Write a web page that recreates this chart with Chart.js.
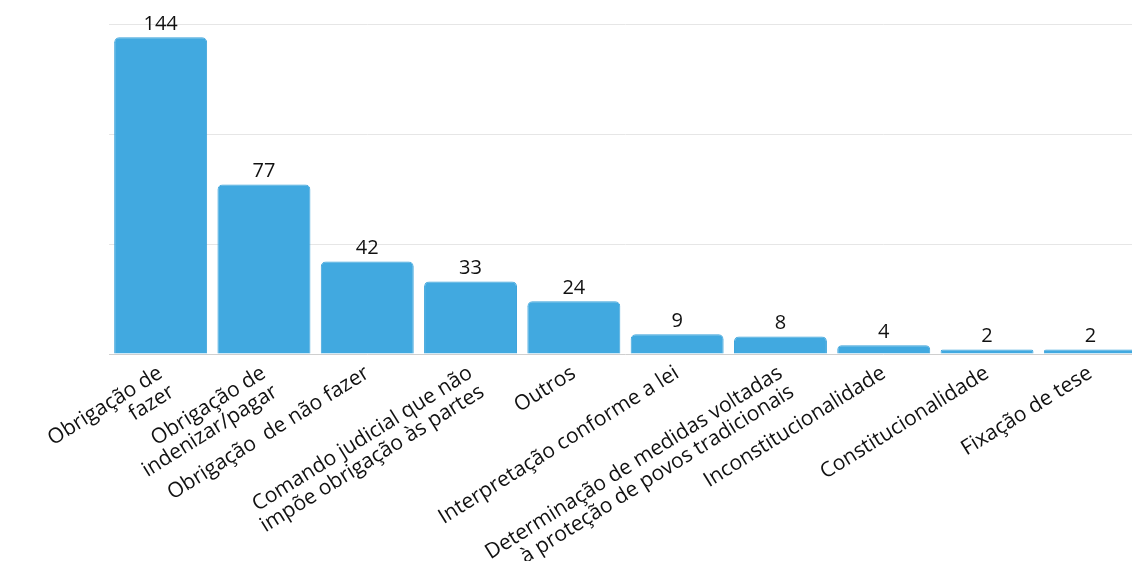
<!DOCTYPE html>
<html>
<head>
<meta charset="utf-8">
<script src="https://cdn.jsdelivr.net/npm/chart.js@4/dist/chart.umd.min.js"></script>
<style>
  html, body { margin: 0; padding: 0; background: #fff; overflow: hidden; }
  #wrap { width: 1142px; height: 561px; }
</style>
</head>
<body>
<div id="wrap"><canvas id="decisoesChart"></canvas></div>
<script>
// categorias (eixo x)
const categorias = [
  ["Obrigação de", "fazer"],
  ["Obrigação de", "indenizar/pagar"],
  "Obrigação  de não fazer",
  ["Comando judicial que não", "impõe obrigação às partes"],
  "Outros",
  "Interpretação conforme a lei",
  ["Determinação de medidas voltadas", "à proteção de povos tradicionais"],
  "Inconstitucionalidade",
  "Constitucionalidade",
  "Fixação de tese",
];

// quantidade por categoria
const quantidades = [144, 77, 42, 33, 24, 9, 8, 4, 2, 2];

// linhas de grade do eixo y
const yTicks = [0, 50, 100, 150];

/**
 * escreve o valor em cima de cada barra
 */
const valorNaBarra = {
  id: "valorNaBarra",
  afterDatasetsDraw(chart) {
    const ctx = chart.ctx;
    const meta = chart.getDatasetMeta(0);
    ctx.save();
    ctx.font = "20px 'Open Sans', sans-serif";
    ctx.fillStyle = "#111";
    ctx.textAlign = "center";
    ctx.textBaseline = "bottom";
    meta.data.forEach((bar, i) => {
      ctx.fillText(String(quantidades[i]), bar.x, bar.y - 3);
    });
    ctx.restore();
  },
};

const ctx = document.getElementById("decisoesChart").getContext("2d");

new Chart(ctx, {
  type: "bar",
  data: {
    labels: categorias,
    datasets: [
      {
        data: quantidades,
        backgroundColor: "#41a9e0",
        borderColor: "#3aa2da",
        borderWidth: 1,
        borderRadius: { topLeft: 5, topRight: 5 },
        borderSkipped: "bottom",
        barPercentage: 0.9,
        categoryPercentage: 1,
      },
    ],
  },
  options: {
    responsive: true,
    maintainAspectRatio: false,
    animation: false,
    layout: { padding: { left: 109, top: 24, right: 0, bottom: 0 } },
    plugins: {
      legend: { display: false },
      tooltip: { enabled: false },
    },
    scales: {
      x: {
        grid: { display: false },
        border: { display: false },
        ticks: {
          autoSkip: false,
          minRotation: 32,
          maxRotation: 32,
          padding: 0,
          color: "#111",
          font: { size: 21, family: "'Open Sans', sans-serif", lineHeight: 1.05 },
        },
        afterFit: (scale) => {
          scale.height = 207;
        },
      },
      y: {
        min: 0,
        max: 150,
        afterBuildTicks: (scale) => {
          scale.ticks = yTicks.map((v) => ({ value: v }));
        },
        border: { display: false },
        grid: {
          drawTicks: false,
          color: (c) => (c.tick && c.tick.value === 0 ? "#cfcfcf" : "#e6e6e6"),
        },
        ticks: { display: false },
      },
    },
  },
  plugins: [valorNaBarra],
});
</script>
</body>
</html>
